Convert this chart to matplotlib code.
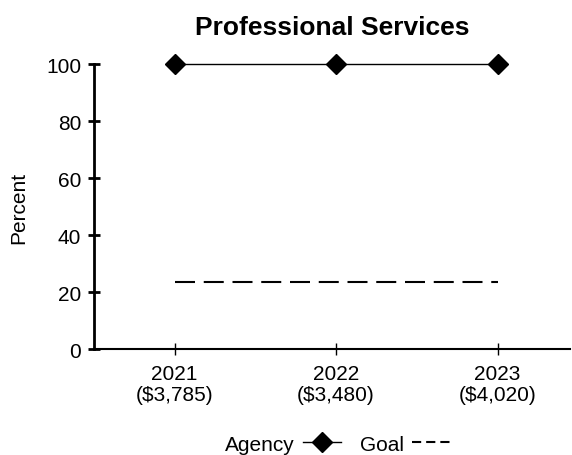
import matplotlib.pyplot as plt
from matplotlib.lines import Line2D

plt.rcParams['font.family'] = ['Liberation Sans', 'DejaVu Sans']

# Spending by year (thousands) shown under each year label
years = ["2021", "2022", "2023"]
spend = ["($3,785)", "($3,480)", "($4,020)"]
agency = [100, 100, 100]
goal = [23.5, 23.5, 23.5]

x = list(range(len(years)))

fig = plt.figure(figsize=(5.72, 4.56), dpi=100)
ax = fig.add_axes([0.164, 0.232, 0.833, 0.625])

ax.plot(x, agency, color="black", linewidth=1, marker="D", markersize=10,
        clip_on=False, zorder=3)
ax.plot(x, goal, color="black", linewidth=1.5, dashes=(9.6, 4.2))

ax.set_xlim(-0.5, 2.45)
ax.set_ylim(0, 100)
ax.set_yticks([0, 20, 40, 60, 80, 100])
ax.set_xticks(x)
ax.set_xticklabels([f"{y}\n{s}" for y, s in zip(years, spend)], linespacing=1.1)

for side in ["top", "right"]:
    ax.spines[side].set_visible(False)
ax.spines["left"].set_linewidth(2)
ax.spines["bottom"].set_linewidth(1.5)
ax.tick_params(axis="y", direction="inout", length=8, width=2, labelsize=15, pad=5)
ax.tick_params(axis="x", direction="inout", length=8, width=1, labelsize=15, pad=7)

ax.set_ylabel("Percent", fontsize=15, labelpad=13)
ax.set_title("Professional Services", fontsize=19, fontweight="bold", pad=22)

# legend: label text before the line sample
handles = [
    Line2D([], [], color="black", linewidth=1, marker="D", markersize=10),
    Line2D([], [], color="black", linewidth=1.5, dashes=(4.4, 2.4)),
]
fig.legend(handles, ["Agency", "Goal"], loc="center", bbox_to_anchor=(0.59, 0.024),
           ncol=2, frameon=False, markerfirst=False, fontsize=15,
           handlelength=1.8, columnspacing=0.9, handletextpad=0.4)

fig.savefig("out.png", dpi=100)
